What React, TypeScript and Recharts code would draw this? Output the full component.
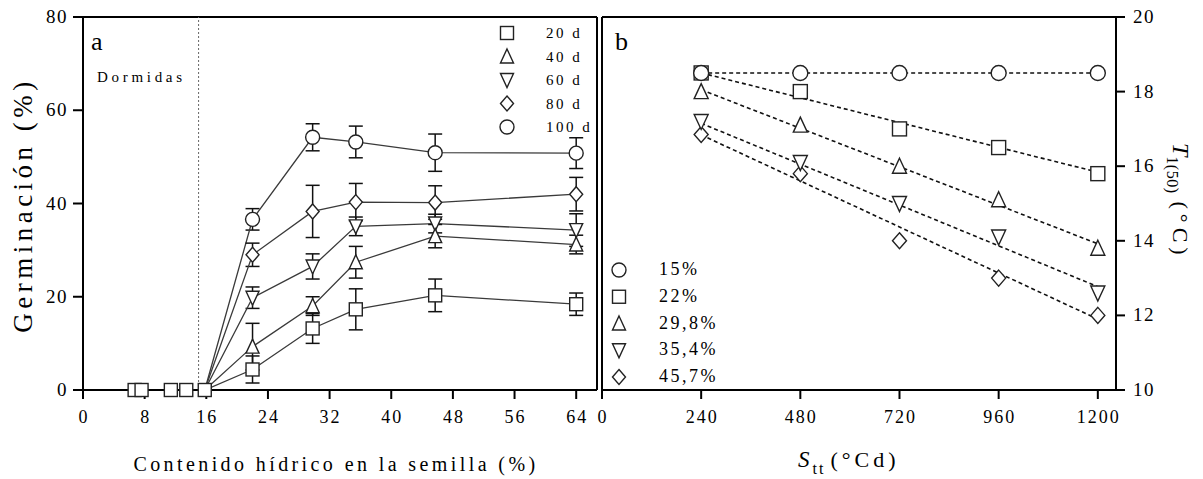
import React from 'react';
import { LineChart, Line, XAxis, YAxis, ErrorBar, ReferenceLine, Legend } from 'recharts';

// panel a: germination vs seed water content
const waterContent = [6.7, 7.6, 11.4, 13.4, 15.8, 22, 29.8, 35.4, 45.7, 64];
const germ20 = [0, 0, 0, 0, 0, 4.4, 13.2, 17.3, 20.3, 18.4];
const err20 = [0, 0, 0, 0, 0, 2.9, 3.2, 4.4, 3.5, 2.4];
const germ40 = [null, null, null, null, 0, 9.3, 18.0, 27.4, 33.0, 31.2];
const err40 = [0, 0, 0, 0, 0, 5.0, 2.0, 3.4, 2.5, 2.0];
const germ60 = [null, null, null, null, 0, 19.8, 26.5, 35.1, 35.7, 34.3];
const err60 = [0, 0, 0, 0, 0, 2.3, 2.7, 2.0, 2.0, 3.5];
const germ80 = [null, null, null, null, 0, 29.0, 38.3, 40.3, 40.2, 42.0];
const err80 = [0, 0, 0, 0, 0, 2.5, 5.6, 4.0, 3.6, 3.6];
const germ100 = [null, null, null, null, 0, 36.6, 54.2, 53.2, 50.9, 50.8];
const err100 = [0, 0, 0, 0, 0, 2.3, 2.9, 3.4, 4.0, 3.3];
const ageLabels = ['20 d', '40 d', '60 d', '80 d', '100 d'];
const waterTicks = [0, 8, 16, 24, 32, 40, 48, 56, 64];
const germTicks = [0, 20, 40, 60, 80];

// panel b: T1(50) vs thermal time
const thermalTime = [240, 480, 720, 960, 1200];
const t15 = [18.5, 18.5, 18.5, 18.5, 18.5];
const t22 = [18.5, 18.0, 17.0, 16.5, 15.8];
const t298 = [18.0, 17.1, 16.0, 15.1, 13.8];
const t354 = [17.2, 16.1, 15.0, 14.1, 12.6];
const t457 = [16.85, 15.8, 14.0, 13.0, 12.0];
const fitEnds = [240, 1200];
const fit15 = [18.5, 18.5];
const fit22 = [18.5, 15.84];
const fit298 = [18.05, 13.92];
const fit354 = [17.15, 12.77];
const fit457 = [16.84, 11.9];
const waterLabels = ['15%', '22%', '29,8%', '35,4%', '45,7%'];
const sttTicks = [0, 240, 480, 720, 960, 1200];
const tempTicks = [10, 12, 14, 16, 18, 20];

const FONT = 'Liberation Serif';
const fs = (size: number, spacing = 0, extra: any = {}) => ({ fontFamily: FONT, fontSize: size, letterSpacing: spacing, ...extra });

const germRows = waterContent.map((x, i) => ({
  x,
  g20: germ20[i], e20: err20[i],
  g40: germ40[i], e40: err40[i],
  g60: germ60[i], e60: err60[i],
  g80: germ80[i], e80: err80[i],
  g100: germ100[i], e100: err100[i],
}));

const toRows = (vals: number[], xs: number[]) => xs.map((s, i) => ({ s, v: vals[i] }));

type Shape = 'square' | 'circle' | 'up' | 'down' | 'diamond';

function marker(shape: Shape, cx: number, cy: number, s: number, key?: any) {
  const st = { fill: '#fff', stroke: '#222', strokeWidth: 1.4 };
  const h = s / 2;
  switch (shape) {
    case 'square':
      return <rect key={key} x={cx - h} y={cy - h} width={s} height={s} {...st} />;
    case 'circle':
      return <circle key={key} cx={cx} cy={cy} r={h + 0.5} {...st} />;
    case 'up':
      return <polygon key={key} points={`${cx},${cy - h - 1} ${cx + h},${cy + h} ${cx - h},${cy + h}`} {...st} />;
    case 'down':
      return <polygon key={key} points={`${cx - h},${cy - h} ${cx + h},${cy - h} ${cx},${cy + h + 1}`} {...st} />;
    default:
      return <polygon key={key} points={`${cx},${cy - h - 1} ${cx + h},${cy} ${cx},${cy + h + 1} ${cx - h},${cy}`} {...st} />;
  }
}

const dot = (shape: Shape, s: number, hideZero = false) => (p: any) => {
  if (p.cx == null || p.cy == null || p.value == null || (hideZero && p.value === 0)) {
    return <g key={`d${p.index}`} />;
  }
  return marker(shape, p.cx, p.cy, s, `d${p.index}`);
};

const XTick = ({ x, y, payload }: any) => (
  <text x={x + 1} y={y} dy={22} textAnchor="middle" fill="#000" style={fs(18, 2)}>
    {payload.value}
  </text>
);
const YTickL = ({ x, y, payload }: any) => (
  <text x={x + 1} y={y} dy={6} textAnchor="end" fill="#000" style={fs(19, 1.5)}>
    {payload.value}
  </text>
);
const YTickR = ({ x, y, payload }: any) => (
  <text x={x} y={y} dy={6} textAnchor="start" fill="#000" style={fs(19, 1.5)}>
    {payload.value}
  </text>
);

const axisStroke = { stroke: '#000', strokeWidth: 2 };

function LegendBlock({ labels, shapes, step, textDx, size, spacing }: any) {
  return (
    <svg width={110} height={step * labels.length + 10} style={{ overflow: 'visible' }}>
      {labels.map((l: string, i: number) => (
        <g key={l}>
          {marker(shapes[i], 8, 8 + i * step, 13)}
          <text x={textDx} y={8 + i * step + 5} fill="#000" style={fs(size, spacing)}>
            {l}
          </text>
        </g>
      ))}
    </svg>
  );
}

const ageShapes: Shape[] = ['square', 'up', 'down', 'diamond', 'circle'];
const waterShapes: Shape[] = ['circle', 'square', 'up', 'down', 'diamond'];

export default function App() {
  const lineStyle = { stroke: '#3a3a3a', strokeWidth: 1.3 };
  const eb = { width: 7, stroke: '#111', strokeWidth: 1.5 };
  return (
    <div style={{ position: 'absolute', left: 0, top: 0, width: 1203, height: 479, background: '#fff', fontFamily: FONT }}>
      <div style={{ position: 'absolute', left: 0, top: 0 }}>
        <LineChart width={600} height={479} data={germRows} margin={{ top: 17, right: 3, bottom: 0, left: 23 }}>
          <XAxis type="number" dataKey="x" domain={[0, 66.7]} ticks={waterTicks} height={89} tickSize={9}
            axisLine={axisStroke} tickLine={axisStroke} tick={<XTick />} interval={0} />
          <YAxis type="number" domain={[0, 80]} ticks={germTicks} width={60} tickSize={10} tickMargin={6}
            axisLine={axisStroke} tickLine={axisStroke} tick={<YTickL />} interval={0} />
          <ReferenceLine y={80} stroke="#000" strokeWidth={2} />
          <ReferenceLine x={66.7} stroke="#000" strokeWidth={2} />
          <ReferenceLine x={15} stroke="#666" strokeWidth={1} strokeDasharray="2 2" />
          <Line dataKey="g100" {...lineStyle} dot={dot('circle', 13, true)} activeDot={false} isAnimationActive={false} legendType="none">
            <ErrorBar dataKey="e100" {...eb} />
          </Line>
          <Line dataKey="g80" {...lineStyle} dot={dot('diamond', 13, true)} activeDot={false} isAnimationActive={false} legendType="none">
            <ErrorBar dataKey="e80" {...eb} />
          </Line>
          <Line dataKey="g60" {...lineStyle} dot={dot('down', 13, true)} activeDot={false} isAnimationActive={false} legendType="none">
            <ErrorBar dataKey="e60" {...eb} />
          </Line>
          <Line dataKey="g40" {...lineStyle} dot={dot('up', 13, true)} activeDot={false} isAnimationActive={false} legendType="none">
            <ErrorBar dataKey="e40" {...eb} />
          </Line>
          <Line dataKey="g20" {...lineStyle} dot={dot('square', 13)} activeDot={false} isAnimationActive={false} legendType="none">
            <ErrorBar dataKey="e20" {...eb} />
          </Line>
          <Legend layout="vertical" align="center" verticalAlign="middle"
            wrapperStyle={{ left: 499, top: 25, width: 110, height: 130 }}
            content={() => <LegendBlock labels={ageLabels} shapes={ageShapes} step={23.5} textDx={47} size={15} spacing={2.5} />} />
        </LineChart>
      </div>
      <div style={{ position: 'absolute', left: 590, top: 0 }}>
        <LineChart width={613} height={479} margin={{ top: 17, right: 0, bottom: 0, left: 12 }}>
          <XAxis type="number" dataKey="s" domain={[0, 1244]} ticks={sttTicks} height={89} tickSize={9}
            axisLine={axisStroke} tickLine={axisStroke} tick={<XTick />} interval={0} allowDuplicatedCategory={false} />
          <YAxis type="number" orientation="right" domain={[10, 20]} ticks={tempTicks} width={87} tickSize={9} tickMargin={8}
            axisLine={axisStroke} tickLine={axisStroke} tick={<YTickR />} interval={0} />
          <ReferenceLine y={20} stroke="#000" strokeWidth={2} />
          <ReferenceLine x={0} stroke="#000" strokeWidth={2} />
          {[fit15, fit22, fit298, fit354, fit457].map((f, i) => (
            <Line key={`f${i}`} data={toRows(f, fitEnds)} dataKey="v" stroke="#111" strokeWidth={1.6} strokeDasharray="4 3"
              dot={false} activeDot={false} isAnimationActive={false} legendType="none" />
          ))}
          <Line data={toRows(t457, thermalTime)} dataKey="v" stroke="none" dot={dot('diamond', 14)} activeDot={false} isAnimationActive={false} legendType="none" />
          <Line data={toRows(t354, thermalTime)} dataKey="v" stroke="none" dot={dot('down', 14)} activeDot={false} isAnimationActive={false} legendType="none" />
          <Line data={toRows(t298, thermalTime)} dataKey="v" stroke="none" dot={dot('up', 14)} activeDot={false} isAnimationActive={false} legendType="none" />
          <Line data={toRows(t22, thermalTime)} dataKey="v" stroke="none" dot={dot('square', 14)} activeDot={false} isAnimationActive={false} legendType="none" />
          <Line data={toRows(t15, thermalTime)} dataKey="v" stroke="none" dot={dot('circle', 14)} activeDot={false} isAnimationActive={false} legendType="none" />
          <Legend layout="vertical" align="center" verticalAlign="middle"
            wrapperStyle={{ left: 21, top: 262, width: 110, height: 140 }}
            content={() => <LegendBlock labels={waterLabels} shapes={waterShapes} step={26.75} textDx={48} size={18} spacing={2.5} />} />
        </LineChart>
      </div>
      <svg width={1203} height={479} style={{ position: 'absolute', left: 0, top: 0, pointerEvents: 'none' }}>
        <text x={91} y={50} fill="#000" style={fs(26)}>a</text>
        <text x={97} y={82} fill="#000" style={fs(15, 3.7)}>Dormidas</text>
        <text x={615} y={50} fill="#000" style={fs(26)}>b</text>
        <text x={32} y={205} textAnchor="middle" fill="#000" transform="rotate(-90 32 205)" style={fs(27, 4.5)}>
          Germinación (%)
        </text>
        <text x={336} y={471} textAnchor="middle" fill="#000" style={fs(20, 3.4)}>
          Contenido hídrico en la semilla (%)
        </text>
        <text x={798} y={467} fill="#000" style={fs(23)}>
          <tspan style={{ fontStyle: 'italic' }}>S</tspan>
          <tspan dy={7} dx={3} style={fs(16, 2)}>tt</tspan>
          <tspan dy={-7} dx={5} style={fs(22, 4)}>(°Cd)</tspan>
        </text>
        <text x={1173} y={143} fill="#000" transform="rotate(90 1173 143)" style={fs(24)}>
          <tspan style={{ fontStyle: 'italic' }}>T</tspan>
          <tspan dy={6} style={fs(16, 0.5)}>1(50)</tspan>
          <tspan dy={-6} dx={8} style={fs(22, 5)}>(°C)</tspan>
        </text>
      </svg>
    </div>
  );
}
